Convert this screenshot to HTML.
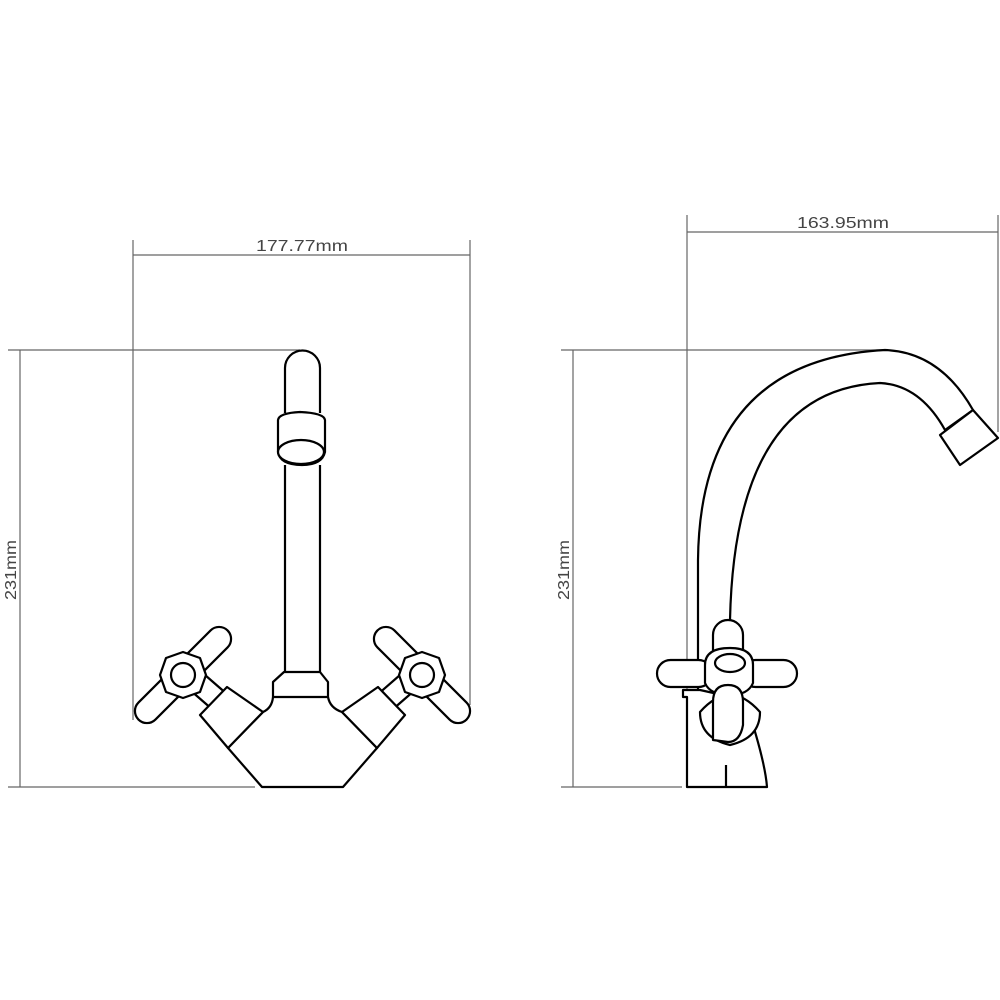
<!DOCTYPE html>
<html><head><style>html,body{margin:0;padding:0;background:#fff}svg{display:block}</style></head><body>
<svg width="1000" height="1000" viewBox="0 0 1000 1000" xmlns="http://www.w3.org/2000/svg">
<g stroke="#666" stroke-width="1.2" fill="none">
<line x1="133" y1="240" x2="133" y2="720"/><line x1="470" y1="240" x2="470" y2="705"/>
<line x1="133" y1="255" x2="470" y2="255"/>
<line x1="20" y1="350" x2="20" y2="787"/>
<line x1="8" y1="350" x2="300" y2="350"/><line x1="8" y1="787" x2="255" y2="787"/>
<line x1="687" y1="215" x2="687" y2="690"/><line x1="998" y1="215" x2="998" y2="432"/>
<line x1="687" y1="232" x2="998" y2="232"/>
<line x1="573" y1="350" x2="573" y2="787"/>
<line x1="561" y1="350" x2="885" y2="350"/><line x1="561" y1="787" x2="682" y2="787"/>
</g>
<g fill="#444" font-family="Liberation Sans, sans-serif" font-size="16">
<text x="302" y="251" text-anchor="middle" textLength="92" lengthAdjust="spacingAndGlyphs">177.77mm</text>
<text x="843" y="228" text-anchor="middle" textLength="92" lengthAdjust="spacingAndGlyphs">163.95mm</text>
<text transform="translate(16,570) rotate(-90)" text-anchor="middle" textLength="60" lengthAdjust="spacingAndGlyphs">231mm</text>
<text transform="translate(569,570) rotate(-90)" text-anchor="middle" textLength="60" lengthAdjust="spacingAndGlyphs">231mm</text>
</g>
<g stroke="#000" stroke-width="2.2" fill="#fff" stroke-linejoin="round">
<!-- left faucet -->
<path d="M285 413 L285 368 A17.5 17.5 0 0 1 320 368 L320 413"/>
<path d="M285 465 L285 672 M320 465 L320 672"/>
<path d="M278 420 Q279 413 300 412 Q324 413 325 420 L325 452 Q322 465 302 465 Q280 465 278 452 Z"/>
<ellipse cx="301" cy="452" rx="23" ry="12"/>
<path d="M284 672 L320 672 L328 682 L328 697 Q330 708 342 712 L377 748 L343 787 L262 787 L228 748 L263 712 Q272 708 273 697 L273 682 Z"/>
<line x1="273" y1="697" x2="328" y2="697"/>
<!-- left stems -->
<path d="M190 690 L205 675 L228 695 L213 710 Z"/>
<path d="M415 690 L400 675 L377 695 L392 710 Z"/>
<path d="M200 715 L227 687 L263 712 L228 748 Z"/>
<path d="M405 715 L378 687 L342 712 L377 748 Z"/>
<!-- left cross -->
<g transform="translate(183,675) rotate(-45)">
<rect x="-63" y="-12" width="126" height="24" rx="12"/>
</g>
<path d="M166 658 L183 652 L200 658 L206 675 L200 692 L183 698 L166 692 L160 675 Z"/>
<circle cx="183" cy="675" r="12"/>
<g transform="translate(422,675) rotate(45)">
<rect x="-63" y="-12" width="126" height="24" rx="12"/>
</g>
<path d="M405 658 L422 652 L439 658 L445 675 L439 692 L422 698 L405 692 L399 675 Z"/>
<circle cx="422" cy="675" r="12"/>
<!-- right faucet -->
<path d="M687 787 L687 697 L683 697 L683 690 L700 690 L745 700 Q765 760 767 787 Z"/>
<line x1="726" y1="765" x2="726" y2="787"/>
<path d="M698 690 L698 560 Q700 360 885 350 Q940 352 973 410 L945 430 Q920 385 880 383 Q735 390 730 620 L730 660" fill="none"/>
<path d="M940 435 L973 410 L998 438 L960 465 Z"/>
<path d="M700 712 Q700 738 730 745 Q760 738 760 712 Q745 695 730 695 Q715 695 700 712 Z"/>
<rect x="713" y="620" width="30" height="50" rx="15"/>
<rect x="657" y="660" width="55" height="27" rx="13.5"/>
<rect x="742" y="660" width="55" height="27" rx="13.5"/>
<path d="M705 665 Q705 648 730 648 Q753 648 753 665 L753 683 Q748 695 730 695 Q710 695 705 683 Z"/>
<ellipse cx="730" cy="663" rx="15" ry="9"/>
<path d="M713 740 L713 702 Q713 685 728 685 Q743 685 743 702 L743 725 Q740 742 728 742 Z"/>
</g>
</svg>
</body></html>
